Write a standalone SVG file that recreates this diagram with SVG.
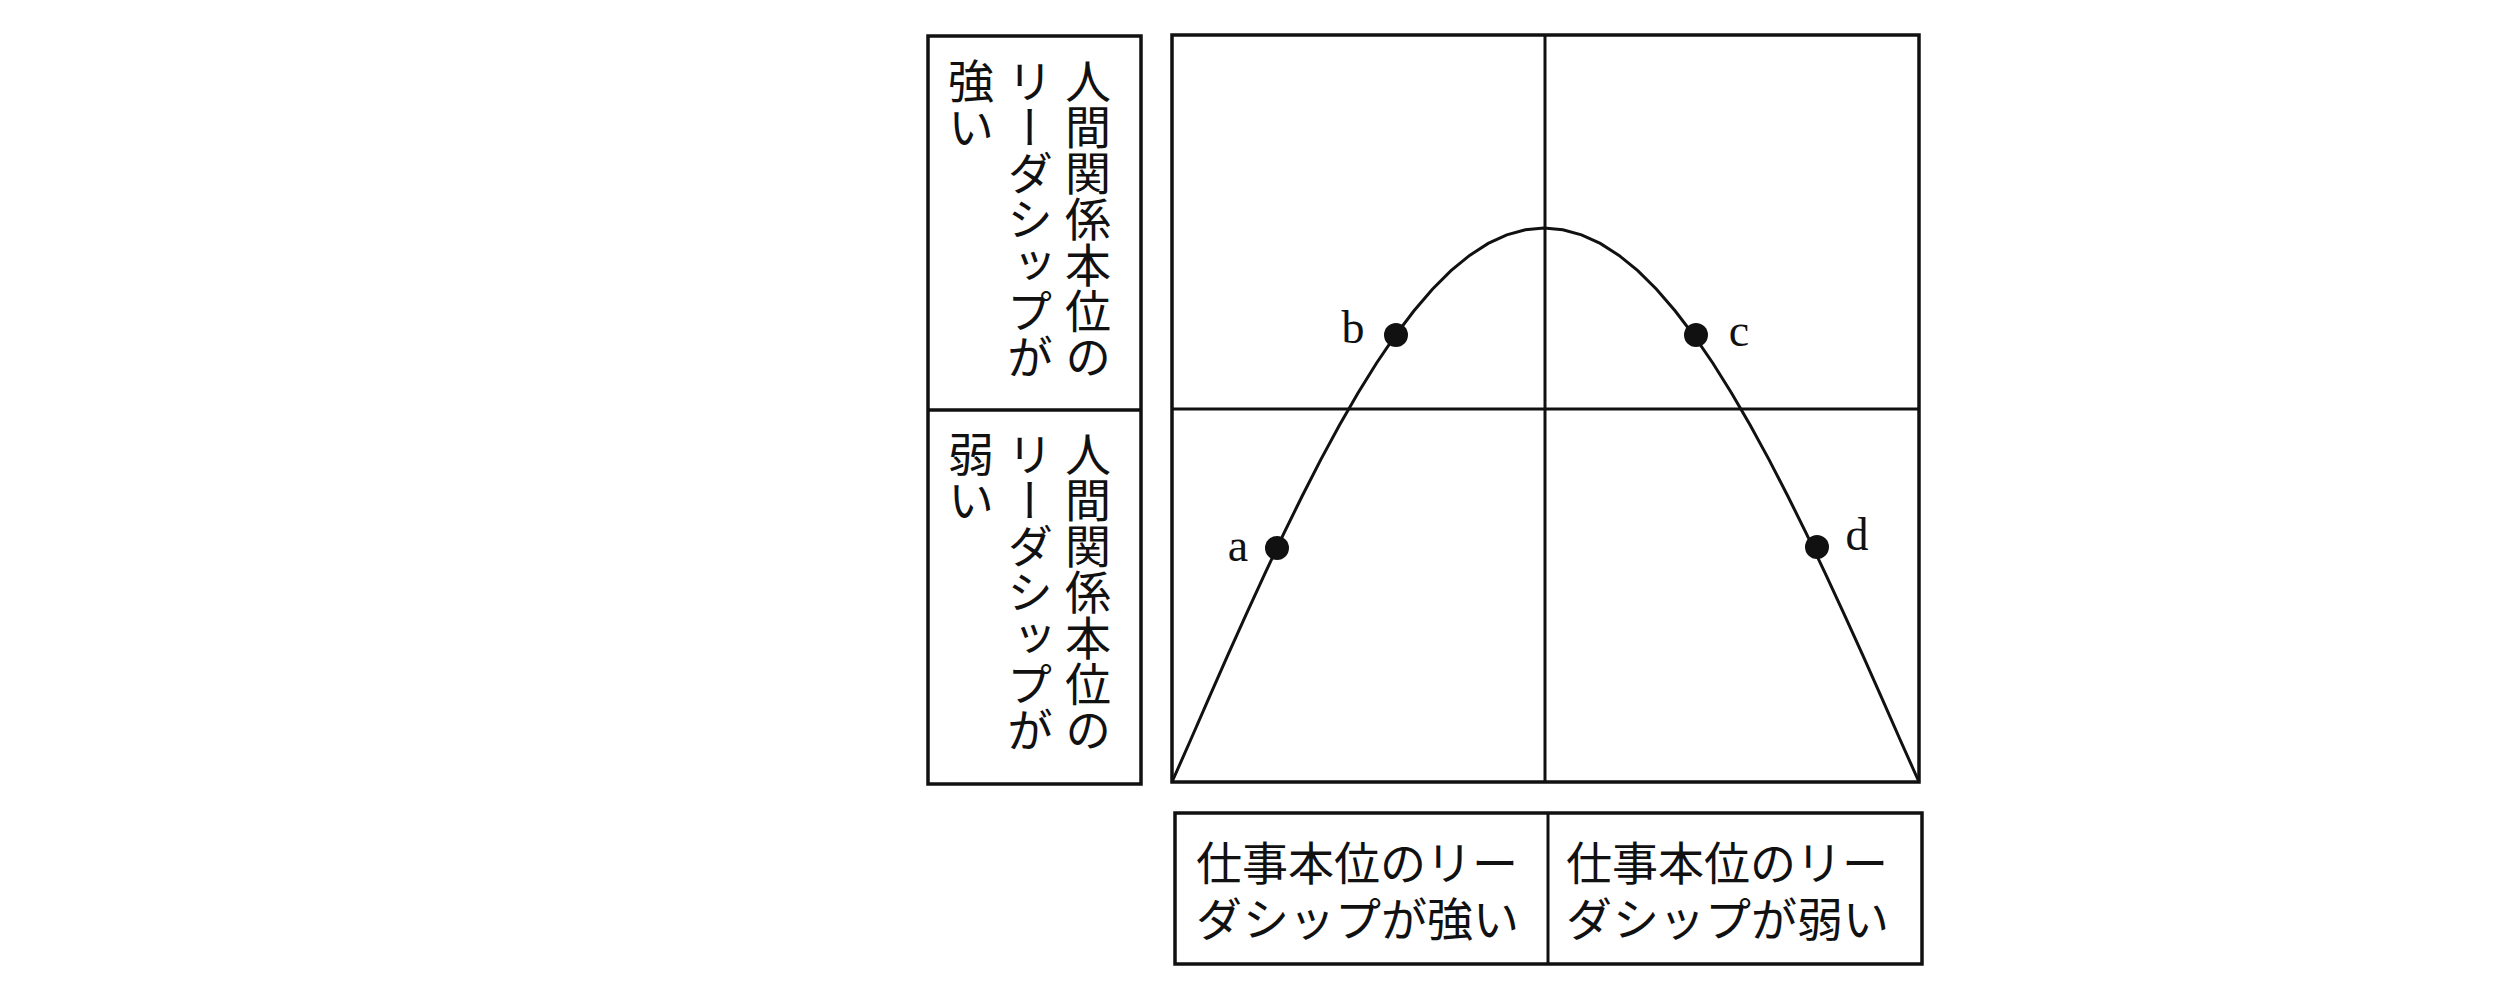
<svg xmlns="http://www.w3.org/2000/svg" width="2520" height="994" viewBox="0 0 2520 994">
<style>
.box{fill:none;stroke:#111;stroke-width:3.5}
.ln{fill:none;stroke:#111;stroke-width:3}
.jp{font-family:"Noto Sans CJK JP","Noto Sans CJK SC",sans-serif;font-size:46px;fill:#111}
.vt{writing-mode:vertical-rl;text-orientation:mixed}
.lbl{font-family:"Liberation Serif",serif;font-size:46px;fill:#111;text-anchor:middle}
.dot{fill:#111}
</style>
<rect width="2520" height="994" fill="#fff"/>
<g id="left-labels">
<rect class="box" x="928" y="36" width="213" height="748"/>
<line class="box" x1="928" y1="410" x2="1141" y2="410"/>
<g id="label-strong">
<text class="jp vt" x="1088" y="58">人間関係本位の</text>
<text class="jp vt" x="1030" y="58">リーダシップが</text>
<text class="jp vt" x="971" y="58">強い</text>
</g>
<g id="label-weak">
<text class="jp vt" x="1088" y="431">人間関係本位の</text>
<text class="jp vt" x="1030" y="431">リーダシップが</text>
<text class="jp vt" x="971" y="431">弱い</text>
</g>
</g>
<g id="grid">
<rect class="box" x="1172" y="35" width="747" height="747"/>
<line class="ln" x1="1172" y1="409" x2="1919" y2="409"/>
<line class="ln" x1="1545" y1="35" x2="1545" y2="782"/>
</g>
<g id="connectors">
<polyline class="ln" points="1172,782 1190.6,740 1209.2,697.4 1227.8,655.2 1246.4,613.8 1265,573.3 1283.6,533.8 1302.2,496 1320.8,459.6 1339.4,425.3 1358,393 1376.6,363 1395.2,335.7 1413.8,311 1432.4,289.3 1451,270.7 1469.6,255.4 1488.2,243.4 1506.8,234.8 1525.4,229.7 1544,228 1562.75,229.7 1581.5,234.8 1600.25,243.4 1619,255.4 1637.75,270.7 1656.5,289.3 1675.25,311 1694,335.7 1712.75,363 1731.5,393 1750.25,425.3 1769,459.6 1787.75,496 1806.5,533.8 1825.25,573.3 1844,613.8 1862.75,655.2 1881.5,697.4 1900.25,740 1919,782"/>
</g>
<g id="point-a"><circle class="dot" cx="1277" cy="548" r="12"/><text class="lbl" x="1238" y="561">a</text></g>
<g id="point-b"><circle class="dot" cx="1396" cy="335" r="12"/><text class="lbl" x="1353" y="343">b</text></g>
<g id="point-c"><circle class="dot" cx="1696" cy="335" r="12"/><text class="lbl" x="1739" y="346">c</text></g>
<g id="point-d"><circle class="dot" cx="1817" cy="547" r="12"/><text class="lbl" x="1857" y="550">d</text></g>
<g id="bottom-labels">
<rect class="box" x="1175" y="813" width="747" height="151"/>
<line class="ln" x1="1548" y1="813" x2="1548" y2="964"/>
<text class="jp" x="1196" y="880">仕事本位のリー</text>
<text class="jp" x="1196" y="936">ダシップが強い</text>
<text class="jp" x="1566" y="880">仕事本位のリー</text>
<text class="jp" x="1566" y="936">ダシップが弱い</text>
</g>
</svg>
